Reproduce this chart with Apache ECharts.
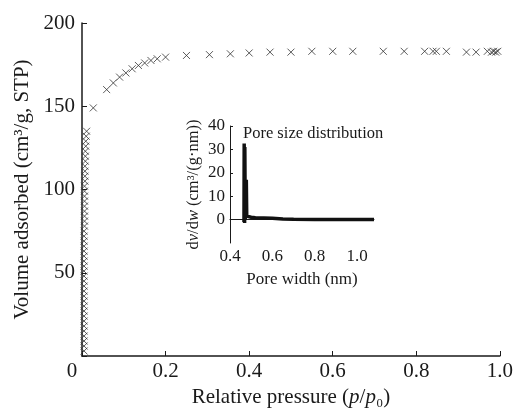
<!DOCTYPE html>
<html>
<head>
<meta charset="utf-8">
<script src="https://cdn.jsdelivr.net/npm/echarts@6/dist/echarts.min.js"></script>
<style>
  html, body { margin: 0; padding: 0; background: #fff; }
  #chart { width: 516px; height: 413px; }
</style>
</head>
<body>
<div id="chart"></div>
<script>
// nitrogen isotherm, relative pressure vs volume adsorbed
const isoP = [
  0.005, 0.005, 0.005, 0.005, 0.005, 0.005, 0.005, 0.005, 0.005, 0.005,
  0.005, 0.005, 0.005, 0.005, 0.005, 0.005, 0.005, 0.005, 0.005, 0.005,
  0.005, 0.005, 0.005, 0.005, 0.005, 0.006, 0.006, 0.006, 0.006, 0.006,
  0.006, 0.006, 0.006, 0.006, 0.007, 0.007, 0.007, 0.007, 0.008, 0.008,
  0.008, 0.009, 0.009, 0.010, 0.011,
  0.027, 0.059, 0.075, 0.09, 0.105, 0.12, 0.135, 0.15, 0.165, 0.18, 0.2,
  0.25, 0.305, 0.355, 0.40, 0.45, 0.50, 0.55, 0.60, 0.648, 0.721, 0.771,
  0.82, 0.84, 0.848, 0.872, 0.92, 0.943, 0.97, 0.98, 0.985, 0.99, 0.995
];
const isoV = [
  3, 6, 9, 12, 15, 18, 21, 24, 27, 30,
  33, 36, 39, 42, 45, 48, 51, 54, 57, 60,
  63, 66, 69, 72, 75, 78, 81, 84, 87, 90,
  93, 96, 99, 102, 105, 108, 111, 114, 117, 120,
  123, 126, 129, 132, 135,
  149, 160, 164, 167.5, 170, 172.5, 174.5, 176, 177.5, 178.5, 179.5,
  180.5, 181, 181.5, 182, 182.5, 182.5, 183, 183, 183, 183, 183,
  183, 183, 183, 183, 182.5, 182.5, 183, 182.5, 183, 182.5, 183
];

// pore size distribution (inset)
const poreW = [0.466, 0.467, 0.469, 0.47, 0.472, 0.477, 0.479, 0.485, 0.5, 0.52, 0.6, 0.65, 0.7, 0.8, 0.9, 1.0, 1.08];
const poreD = [-1, 32.5, -1.5, 31, 0, 17, 1.5, 1.2, 1.0, 0.8, 0.6, 0.3, 0.1, 0, 0, 0, 0];

const xTicks = { min: 0, max: 1.0, interval: 0.2 };
const yTicks = { min: 0, max: 200, interval: 50 };

const font = '"Liberation Serif", "Times New Roman", serif';
const ink = '#1a1a1a';

const chart = echarts.init(document.getElementById('chart'));

const isoData = isoP.map((p, i) => [p, isoV[i]]);
const poreData = poreW.map((w, i) => [w, poreD[i]]);

chart.setOption({
  animation: false,
  title: {
    text: 'Pore size distribution',
    left: 238,
    top: 120,
    textStyle: { fontFamily: font, fontSize: 16.5, fontWeight: 'normal', color: ink }
  },
  grid: [
    { left: 82, top: 23, right: 14, bottom: 51 },
    { left: 230, top: 126, width: 144, bottom: 170 }
  ],
  xAxis: [
    {
      gridIndex: 0,
      type: 'value',
      min: xTicks.min, max: xTicks.max, interval: xTicks.interval,
      splitLine: { show: false },
      axisLine: { lineStyle: { color: ink, width: 1.5 } },
      axisTick: { inside: true, length: 5, lineStyle: { color: ink } },
      axisLabel: {
        fontFamily: font, fontSize: 21, color: ink, margin: 5,
        formatter: v => v === 0 ? '{z|0}' : v.toFixed(1),
        rich: { z: { fontFamily: font, fontSize: 21, color: ink, padding: [0, 20, 0, 0] } }
      },
      name: 'Relative pressure ({i|p}/{i|p}₀)',
      nameLocation: 'middle',
      nameGap: 31,
      nameTextStyle: {
        fontFamily: font, fontSize: 21, color: ink,
        rich: { i: { fontFamily: font, fontSize: 21, fontStyle: 'italic', color: ink } }
      }
    },
    {
      gridIndex: 1,
      type: 'value',
      min: 0.4, max: 1.08, interval: 0.2,
      splitLine: { show: false },
      axisLine: { lineStyle: { color: ink, width: 1 } },
      axisTick: { show: false },
      axisLabel: {
        fontFamily: font, fontSize: 17, color: ink, margin: 5,
        showMaxLabel: false,
        formatter: v => v.toFixed(1)
      },
      name: 'Pore width (nm)',
      nameLocation: 'middle',
      nameGap: 28,
      nameTextStyle: { fontFamily: font, fontSize: 17, color: ink }
    }
  ],
  yAxis: [
    {
      gridIndex: 0,
      type: 'value',
      min: yTicks.min, max: yTicks.max, interval: yTicks.interval,
      splitLine: { show: false },
      axisLine: { lineStyle: { color: ink, width: 1.5 } },
      axisTick: { inside: true, length: 5, lineStyle: { color: ink } },
      axisLabel: {
        fontFamily: font, fontSize: 21, color: ink, margin: 7,
        formatter: v => v === 0 ? '' : String(v)
      },
      name: 'Volume adsorbed (cm³/g, STP)',
      nameLocation: 'middle',
      nameGap: 48,
      nameTextStyle: { fontFamily: font, fontSize: 21, color: ink }
    },
    {
      gridIndex: 1,
      type: 'value',
      min: -10, max: 40, interval: 10,
      splitLine: { show: false },
      axisLine: { lineStyle: { color: ink, width: 1 } },
      axisTick: { inside: true, length: 3, lineStyle: { color: ink } },
      axisLabel: {
        fontFamily: font, fontSize: 17, color: ink, margin: 5,
        showMinLabel: false
      },
      name: 'd{i|v}/d{i|w} (cm³/(g·nm))',
      nameLocation: 'middle',
      nameGap: 28,
      nameTextStyle: {
        fontFamily: font, fontSize: 16.5, color: ink,
        rich: { i: { fontFamily: font, fontSize: 16.5, fontStyle: 'italic', color: ink } }
      }
    }
  ],
  series: [
    {
      type: 'scatter',
      xAxisIndex: 0, yAxisIndex: 0,
      data: isoData,
      symbol: 'path://M0,0L10,10M10,0L0,10',
      symbolSize: 7,
      itemStyle: { color: 'transparent', borderColor: '#333', borderWidth: 1 }
    },
    {
      type: 'line',
      xAxisIndex: 1, yAxisIndex: 1,
      data: poreData,
      showSymbol: false,
      lineStyle: { color: '#111', width: 3.5 }
    }
  ]
});
</script>
</body>
</html>
